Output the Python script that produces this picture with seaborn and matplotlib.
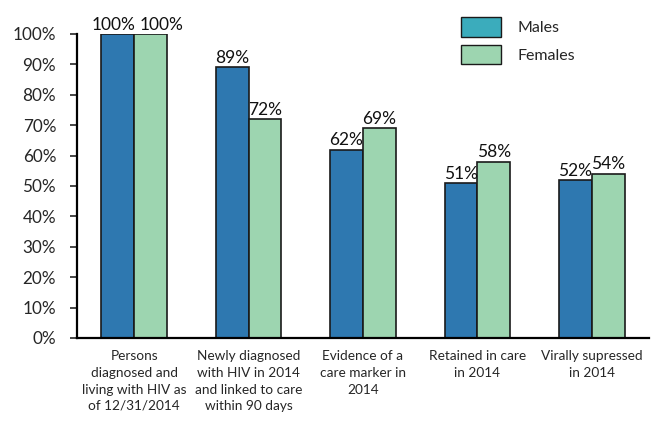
import matplotlib
matplotlib.use("Agg")
import matplotlib.pyplot as plt
import seaborn as sns
import pandas as pd
from matplotlib.patches import Patch

categories = ["Persons\ndiagnosed and\nliving with HIV as\nof 12/31/2014",
              "Newly diagnosed\nwith HIV in 2014\nand linked to care\nwithin 90 days",
              "Evidence of a\ncare marker in\n2014",
              "Retained in care\nin 2014",
              "Virally supressed\nin 2014"]
males = [100, 89, 62, 51, 52]
females = [100, 72, 69, 58, 54]
series = ["Males", "Females"]
yticks = list(range(0, 101, 10))

df = pd.DataFrame({
    "category": categories * 2,
    "value": males + females,
    "sex": ["Males"] * len(categories) + ["Females"] * len(categories),
})

sns.set_style("white")
plt.rcParams['font.family'] = ['Lato', 'DejaVu Sans']

fig = plt.figure(figsize=(6.59, 4.21), dpi=100)
ax = fig.add_axes([77/659, 1 - 338/421, 572/659, (338-34)/421])

bar_colors = ["#2E78B0", "#9DD5B0"]
legend_colors = ["#3BACBC", "#9DD5B0"]
sns.barplot(data=df, x="category", y="value", hue="sex", hue_order=series,
            palette=bar_colors, saturation=1, width=0.575, edgecolor="#1a1a1a",
            linewidth=1.2, ax=ax, legend=False)

for k, cont in enumerate(ax.containers):
    anns = ax.bar_label(cont, labels=[f"{v:.0f}%" for v in cont.datavalues],
                        padding=1, fontsize=12.5, color="#111111")
    # nudge the touching labels of the first group apart
    dx = -3 if k == 0 else 8
    anns[0].xyann = (dx, anns[0].xyann[1])

ax.set_ylim(0, 100)
ax.set_yticks(yticks)
ax.set_yticklabels([f"{t}%" for t in yticks], fontsize=12.3)
ax.set_xlim(-0.5, len(categories) - 0.5)
ax.tick_params(axis="x", length=0, labelsize=9.8, pad=9)
ax.tick_params(axis="y", length=5, width=1.2, direction="out", left=True, pad=10)
ax.set_xlabel("")
ax.set_ylabel("")
for s in ["top", "right"]:
    ax.spines[s].set_visible(False)
for s in ["left", "bottom"]:
    ax.spines[s].set_color("black")
    ax.spines[s].set_linewidth(1.6)

handles = [Patch(facecolor=c, edgecolor="#1a1a1a", linewidth=1.0) for c in legend_colors]
fig.legend(handles, series, loc="upper left", bbox_to_anchor=(447/659, 1 - 3/421),
           frameon=False, fontsize=11.5, handlelength=2.5, handleheight=1.5,
           handletextpad=1.0, labelspacing=0.5)

for lab in ax.get_xticklabels():
    lab.set_linespacing(1.45)

fig.savefig("out.png", dpi=100)
